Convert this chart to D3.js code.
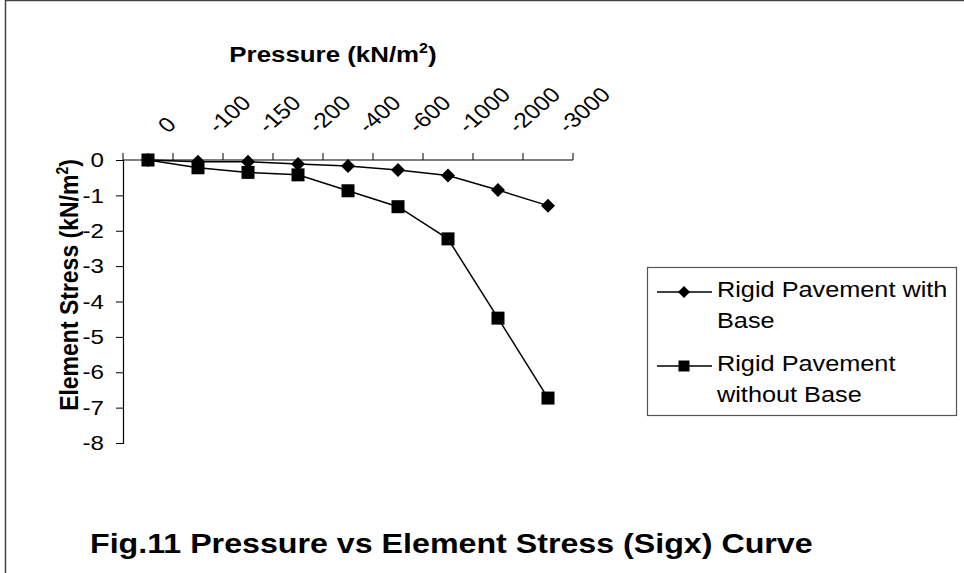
<!DOCTYPE html>
<html>
<head>
<meta charset="utf-8">
<script src="https://cdn.jsdelivr.net/npm/d3@7"></script>
<style>
  body { margin: 0; background: #fff; }
  svg { display: block; font-family: "Liberation Sans", Arial, sans-serif; }
</style>
</head>
<body>
<svg id="chart" width="964" height="573"></svg>
<script>
// Chart data
const pressures = ["0", "-100", "-150", "-200", "-400", "-600", "-1000", "-2000", "-3000"];
const withBase = [0, -0.05, -0.05, -0.11, -0.17, -0.28, -0.44, -0.85, -1.29];
const withoutBase = [0, -0.22, -0.35, -0.42, -0.87, -1.32, -2.23, -4.47, -6.73];
const yTicks = [0, -1, -2, -3, -4, -5, -6, -7, -8];

// the source picture is stretched sideways, text included
const SX = 1.15;

const svg = d3.select("#chart");

// outer frame (right/bottom edges fall outside the picture)
svg.append("rect")
  .attr("x", 5.5).attr("y", 0.5)
  .attr("width", 1000).attr("height", 1000)
  .attr("fill", "none").attr("stroke", "#444").attr("stroke-width", 1.5);

const plot = { left: 123, right: 573, top: 160, bottom: 443 };

const x = d3.scaleBand()
  .domain(pressures)
  .range([plot.left, plot.right])
  .padding(0);

const y = d3.scaleLinear()
  .domain([-8, 0])
  .range([plot.bottom, plot.top]);

const cx = d => x(d) + x.bandwidth() / 2;

// top category axis at y = 0
const xAxis = svg.append("g")
  .attr("transform", `translate(0, ${y(0)})`);
xAxis.append("line")
  .attr("x1", plot.left).attr("x2", plot.right)
  .attr("stroke", "#000").attr("stroke-width", 1.2);
const boundaries = pressures.map(p => x(p)).concat([plot.right]);
xAxis.selectAll(".xtick")
  .data(boundaries)
  .enter()
  .append("line")
  .attr("x1", d => d).attr("x2", d => d)
  .attr("y1", 0).attr("y2", -7)
  .attr("stroke", "#000");

svg.selectAll(".xlabel")
  .data(pressures)
  .enter()
  .append("text")
  .attr("transform", d => `translate(${cx(d) + 20}, 134) scale(${SX},1) rotate(-45)`)
  .attr("font-size", "21px")
  .attr("fill", "#000")
  .text(d => d);

// left value axis
const yAxis = svg.append("g")
  .attr("transform", `translate(${plot.left}, 0)`)
  .call(d3.axisLeft(y).tickValues(yTicks).tickSize(7).tickFormat(d => String(d)));
yAxis.select(".domain").attr("stroke-width", 1.2);
yAxis.selectAll("text")
  .attr("x", 0)
  .attr("transform", `translate(-19,0) scale(${SX},1)`)
  .attr("font-size", "21px")
  .attr("font-family", "\"Liberation Sans\", Arial, sans-serif")
  .attr("fill", "#000");

// lines
const line = d3.line()
  .x((d, i) => cx(pressures[i]))
  .y(d => y(d));

svg.append("path")
  .datum(withBase)
  .attr("d", line)
  .attr("fill", "none").attr("stroke", "#000").attr("stroke-width", 1.5);
svg.append("path")
  .datum(withoutBase)
  .attr("d", line)
  .attr("fill", "none").attr("stroke", "#000").attr("stroke-width", 1.5);

const diamond = s => `M0,${-s}L${s},0L0,${s}L${-s},0Z`;

svg.selectAll(".sq")
  .data(withoutBase)
  .enter()
  .append("rect")
  .attr("x", (d, i) => cx(pressures[i]) - 6.5)
  .attr("y", d => y(d) - 6.5)
  .attr("width", 13).attr("height", 13)
  .attr("fill", "#000");

svg.selectAll(".dm")
  .data(withBase)
  .enter()
  .append("path")
  .attr("transform", (d, i) => `translate(${cx(pressures[i])}, ${y(d)})`)
  .attr("d", diamond(7))
  .attr("fill", "#000");

// axis titles
const title1 = svg.append("text")
  .attr("transform", `translate(333, 62) scale(${SX},1)`)
  .attr("text-anchor", "middle")
  .attr("font-size", "22.5px").attr("font-weight", "bold");
title1.append("tspan").text("Pressure (kN/m");
title1.append("tspan").attr("font-size", "14px").attr("dy", -9).text("2");
title1.append("tspan").attr("dy", 9).text(")");

const title2 = svg.append("text")
  .attr("transform", `translate(78, 285) scale(${SX},1) rotate(-90)`)
  .attr("text-anchor", "middle")
  .attr("font-size", "23px").attr("font-weight", "bold");
title2.append("tspan").text("Element Stress (kN/m");
title2.append("tspan").attr("font-size", "14px").attr("dy", -9).text("2");
title2.append("tspan").attr("dy", 9).text(")");

// legend
const legend = svg.append("g");
legend.append("rect")
  .attr("x", 647.5).attr("y", 267.5)
  .attr("width", 309).attr("height", 148)
  .attr("fill", "#fff").attr("stroke", "#555").attr("stroke-width", 1.2);

const legendRows = [
  { lines: ["Rigid Pavement with", "Base"], y: 292, marker: "diamond" },
  { lines: ["Rigid Pavement", "without Base"], y: 366, marker: "square" }
];

legendRows.forEach(r => {
  legend.append("line")
    .attr("x1", 657).attr("x2", 712)
    .attr("y1", r.y).attr("y2", r.y)
    .attr("stroke", "#000").attr("stroke-width", 1.5);
  if (r.marker === "diamond") {
    legend.append("path")
      .attr("transform", `translate(684, ${r.y})`)
      .attr("d", diamond(6))
      .attr("fill", "#000");
  } else {
    legend.append("rect")
      .attr("x", 678.5).attr("y", r.y - 5.5)
      .attr("width", 11).attr("height", 11)
      .attr("fill", "#000");
  }
  r.lines.forEach((ln, j) => {
    legend.append("text")
      .attr("transform", `translate(717, ${r.y + 5 + j * 31}) scale(${SX},1)`)
      .attr("font-size", "22px").attr("fill", "#000")
      .text(ln);
  });
});

// figure caption
svg.append("text")
  .attr("transform", `translate(90, 553) scale(${SX},1)`)
  .attr("font-size", "28px").attr("font-weight", "bold")
  .text("Fig.11 Pressure vs Element Stress (Sigx) Curve");
</script>
</body>
</html>
